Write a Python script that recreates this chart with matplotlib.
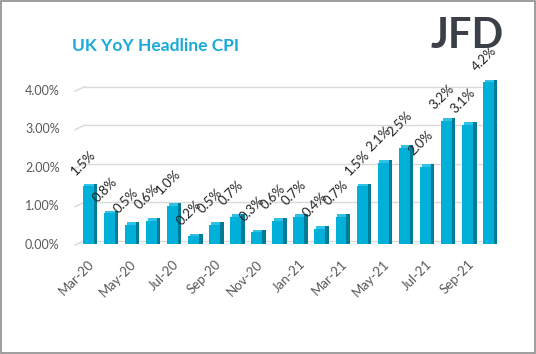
import numpy as np
import matplotlib
matplotlib.use('Agg')
import matplotlib.pyplot as plt
from matplotlib.patches import Rectangle

# data
months = ['Mar-20', 'Apr-20', 'May-20', 'Jun-20', 'Jul-20', 'Aug-20', 'Sep-20', 'Oct-20',
          'Nov-20', 'Dec-20', 'Jan-21', 'Feb-21', 'Mar-21', 'Apr-21', 'May-21', 'Jun-21',
          'Jul-21', 'Aug-21', 'Sep-21', 'Oct-21']
cpi = [1.5, 0.8, 0.5, 0.6, 1.0, 0.2, 0.5, 0.7, 0.3, 0.6,
       0.7, 0.4, 0.7, 1.5, 2.1, 2.5, 2.0, 3.2, 3.1, 4.2]
yticks = [0, 1, 2, 3, 4]

plt.rcParams['font.family'] = ['Lato', 'DejaVu Sans']

W, H = 536, 354
fig = plt.figure(figsize=(W / 100, H / 100), dpi=100)
fig.patches.append(Rectangle((0.001, 0.002), 0.997, 0.995, transform=fig.transFigure,
                             fill=False, edgecolor='#8c8c8c', linewidth=1.2))

px_per = 38.5
ymax = 4.35
ax = fig.add_axes([75 / W, 1 - 244 / H, (497 - 75) / W, ymax * px_per / H])
x = np.arange(len(cpi))
front_w = 0.52
side_w = 0.17

# back wall gridlines with a small slanted floor edge on the left
for t in yticks:
    ax.plot([-0.62, -0.15], [t - 0.03, t + 0.09], color='#d9d9d9', linewidth=1,
            clip_on=False, zorder=1)
    ax.plot([-0.15, 19.4], [t + 0.09, t + 0.09], color='#d9d9d9', linewidth=1,
            clip_on=False, zorder=1)

# top faces, side faces, fronts
vals = np.array(cpi)
ax.bar(x + side_w / 2, [0.08] * len(cpi), bottom=vals - 0.01, width=front_w,
       color='#30c2e6', zorder=2)
ax.bar(x + front_w / 2 + side_w / 2, vals + 0.07, bottom=0.0,
       width=side_w, color='#007c96', zorder=2.5)
ax.bar(x, vals, width=front_w, color='#00b0d8', zorder=3)

for xi, v in zip(x, cpi):
    ax.text(xi - 0.5, v + 0.24, f'{v:.1f}%', rotation=45, rotation_mode='anchor',
            ha='left', va='bottom', fontsize=9.5, color='#222222', zorder=4)

ax.set_xlim(-0.62, 19.4)
ax.set_ylim(0, ymax)
ax.set_yticks(yticks)
ax.set_yticklabels([f'{t:.2f}%' for t in yticks], fontsize=9, color='#595959')
ax.set_xticks(x[::2])
ax.set_xticklabels(months[::2], rotation=45, ha='right', rotation_mode='anchor',
                   fontsize=9.5, color='#595959')
ax.tick_params(length=0)
ax.tick_params(axis='y', pad=11)
ax.tick_params(axis='x', pad=10)
for s in ax.spines.values():
    s.set_visible(False)

fig.text(72 / W, 1 - 46 / H, 'UK YoY Headline CPI', fontsize=12.5, fontweight='bold',
         color='#1aaad8', ha='left', va='center')
fig.text(467 / W, 1 - 36 / H, 'JFD', fontsize=30, fontweight='bold', color='#3b4048',
         ha='center', va='center')

fig.savefig('out.png', dpi=100)
